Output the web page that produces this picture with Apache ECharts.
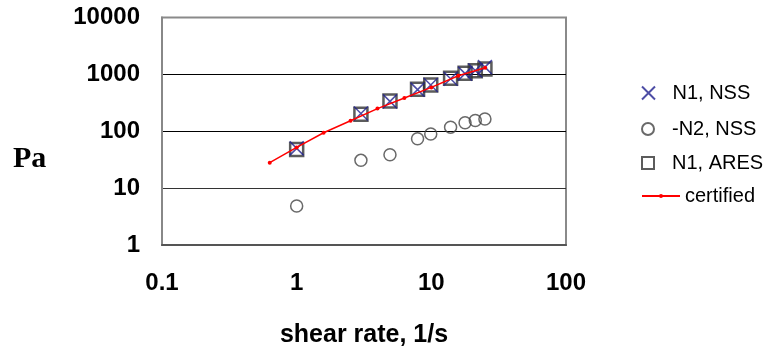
<!DOCTYPE html>
<html>
<head>
<meta charset="utf-8">
<script src="https://cdn.jsdelivr.net/npm/echarts@6/dist/echarts.min.js"></script>
<style>
  html, body { margin: 0; padding: 0; background: #fff; }
  #chart { width: 772px; height: 349px; }
</style>
</head>
<body>
<div id="chart"></div>
<script>
// Shear rates (1/s) of the measured points
const shearRates = [1, 3, 4.93, 7.9, 9.9, 13.9, 17.8, 21.2, 25];
// First normal stress difference, NSS instrument (Pa)
const n1Nss = [50, 205, 335, 540, 650, 840, 1030, 1170, 1340];
// Negative second normal stress difference, NSS instrument (Pa)
const n2Nss = [4.85, 30.8, 38.6, 73.8, 89.3, 118, 141, 155, 164];
// First normal stress difference, ARES instrument (Pa)
const n1Ares = [48, 200, 339, 545, 649, 851, 1042, 1157, 1239];
// Certified reference curve
const certRates = [0.631, 1, 1.585, 2.512, 3.981, 6.31, 10, 15.85, 25.12];
const certValues = [28, 52, 94, 153, 250, 385, 590, 945, 1310];

const xTicks = [0.1, 1, 10, 100];
const yTicks = [1, 10, 100, 1000, 10000];

const pairs = (xs, ys) => xs.map((x, i) => [x, ys[i]]);

const crossPath = 'path://M0,0L10,10M10,0L0,10';
const squarePath = 'path://M0,0H10V10H0Z';

function legendAt(name, top, icon, itemHeight) {
  const entry = icon ? { name: name, icon: icon } : { name: name };
  return {
    data: [entry],
    left: 636,
    top: top,
    itemWidth: 38,
    itemHeight: itemHeight,
    itemGap: 0,
    symbolKeepAspect: true,
    textStyle: { fontFamily: 'Liberation Sans, Arial, sans-serif', fontSize: 20, color: '#000' }
  };
}

const chart = echarts.init(document.getElementById('chart'), null, { renderer: 'canvas' });
chart.setOption({
  animation: false,
  backgroundColor: '#fff',
  grid: {
    left: 162, right: 206, top: 17.5, bottom: 104,
    outerBoundsMode: 'none', containLabel: false,
    show: true, borderColor: '#8a8a8a', borderWidth: 2, backgroundColor: '#fff'
  },
  legend: [
    legendAt('N1, NSS', 78, null, 13),
    legendAt('-N2, NSS', 114, null, 12),
    legendAt('N1, ARES', 148, squarePath, 12),
    legendAt('certified', 181, null, 5)
  ],
  graphic: [
    { type: 'text', left: 13, top: 144,
      style: { text: 'Pa', font: 'bold 30px "Liberation Serif", "Times New Roman", serif', fill: '#000' } }
  ],
  xAxis: {
    type: 'log', logBase: 10, min: xTicks[0], max: xTicks[xTicks.length - 1],
    name: 'shear rate, 1/s', nameLocation: 'middle', nameGap: 78,
    nameTextStyle: { fontFamily: 'Liberation Sans, Arial, sans-serif', fontWeight: 'bold', fontSize: 25, color: '#000' },
    axisLine: { show: true, lineStyle: { color: '#555', width: 2 } },
    axisTick: { show: false },
    splitLine: { show: false },
    axisLabel: {
      margin: 26, color: '#000', fontFamily: 'Liberation Sans, Arial, sans-serif',
      fontWeight: 'bold', fontSize: 24,
      formatter: v => String(v)
    }
  },
  yAxis: {
    type: 'log', logBase: 10, min: yTicks[0], max: yTicks[yTicks.length - 1],
    axisLine: { show: true, lineStyle: { color: '#888', width: 2 } },
    axisTick: { show: false },
    splitLine: { show: true, lineStyle: { color: ['transparent', '#333', '#000', '#000', 'transparent'], width: 1.2 } },
    axisLabel: {
      margin: 22, color: '#000', fontFamily: 'Liberation Sans, Arial, sans-serif',
      fontWeight: 'bold', fontSize: 24,
      formatter: v => String(v)
    }
  },
  series: [
    {
      name: 'N1, ARES', type: 'scatter', data: pairs(shearRates, n1Ares),
      symbol: 'rect', symbolSize: 13, z: 2,
      itemStyle: { color: 'transparent', borderColor: '#333', borderWidth: 2.5 }
    },
    {
      name: 'N1, NSS', type: 'scatter', data: pairs(shearRates, n1Nss),
      symbol: crossPath, symbolSize: 14, z: 3,
      itemStyle: { color: 'transparent', borderColor: '#20208f', borderWidth: 1.5 }
    },
    {
      name: '-N2, NSS', type: 'scatter', data: pairs(shearRates, n2Nss),
      symbol: 'circle', symbolSize: 12, z: 3,
      itemStyle: { color: 'transparent', borderColor: '#444', borderWidth: 1.5 }
    },
    {
      name: 'certified', type: 'line', data: pairs(certRates, certValues),
      symbol: 'circle', symbolSize: 4, showSymbol: true, z: 4,
      lineStyle: { color: '#ff0000', width: 1.5 },
      itemStyle: { color: '#ff0000', borderWidth: 0 }
    }
  ]
});
</script>
</body>
</html>
